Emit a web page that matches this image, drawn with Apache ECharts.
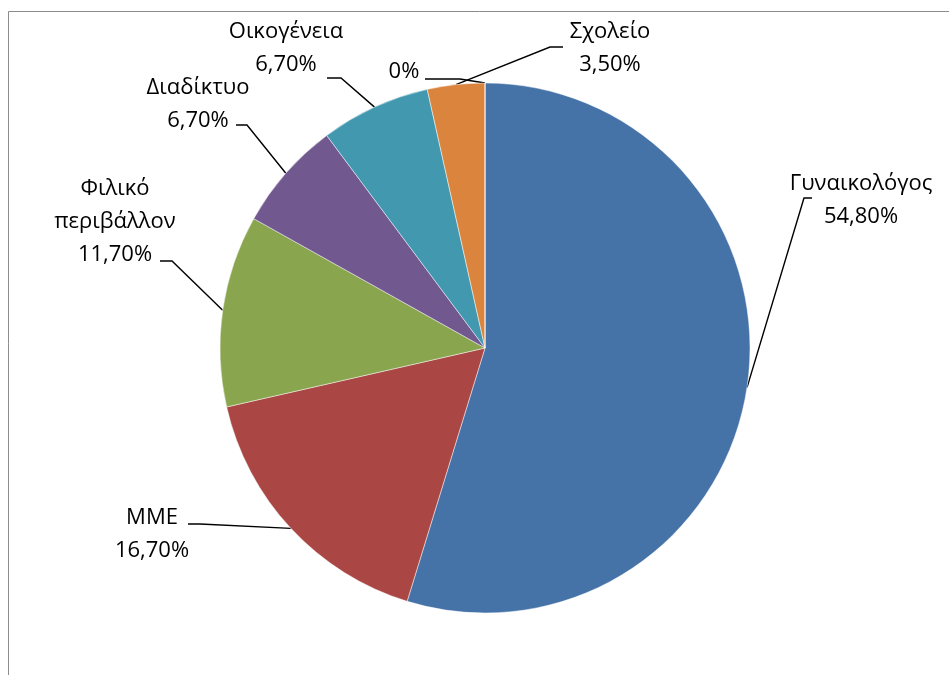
<!DOCTYPE html>
<html>
<head>
<meta charset="utf-8">
<style>
  html, body { margin: 0; padding: 0; background: #ffffff; }
  #chart { width: 949px; height: 675px; }
</style>
<script src="https://cdn.jsdelivr.net/npm/echarts@6/dist/echarts.min.js"></script>
</head>
<body>
<div id="chart"></div>
<script>
// Sources of information, share of respondents (%)
const categories = ['Γυναικολόγος', 'ΜΜΕ', 'Φιλικό περιβάλλον', 'Διαδίκτυο', 'Οικογένεια', 'Σχολείο', ''];
const shares = [54.8, 16.7, 11.7, 6.7, 6.7, 3.5, 0];
const sliceColors = ['#4572A7', '#AA4643', '#89A54E', '#71588F', '#4198AF', '#DB843D', '#93A9CF'];

// Label placement: label centre, elbow point and end point of each leader line
const labelSpots = [
  { c: [861, 200], elbow: [804, 198], end: [812, 198] },
  { c: [152, 534], elbow: [200, 524], end: [188, 524] },
  { c: [115, 222], elbow: [172, 261], end: [160, 261] },
  { c: [198, 104], elbow: [247, 125], end: [236, 125] },
  { c: [286, 48],  elbow: [341, 78],  end: [327, 78] },
  { c: [610, 48],  elbow: [550, 47],  end: [563, 47] },
  { c: [404, 72],  elbow: [460, 79],  end: [425, 79] }
];

function pctText(v) {
  return v === 0 ? '0%' : v.toFixed(2).replace('.', ',') + '%';
}

const chart = echarts.init(document.getElementById('chart'), null, { renderer: 'canvas' });

chart.setOption({
  animation: false,
  backgroundColor: '#ffffff',
  graphic: [{
    type: 'rect',
    shape: { x: 8.5, y: 11.5, width: 1000, height: 700 },
    style: { fill: 'none', stroke: '#8c8c8c', lineWidth: 1 },
    silent: true
  }],
  series: [{
    type: 'pie',
    center: [485, 348],
    radius: 265,
    startAngle: 90,
    clockwise: true,
    avoidLabelOverlap: false,
    data: categories.map((name, i) => ({
      name: name,
      value: shares[i],
      itemStyle: { color: sliceColors[i] }
    })),
    itemStyle: { borderColor: 'rgba(255,255,255,0.6)', borderWidth: 0.8 },
    label: {
      show: true,
      position: 'outside',
      color: '#000000',
      fontFamily: 'Open Sans, Noto Sans, sans-serif',
      fontSize: 22,
      lineHeight: 33,
      align: 'center',
      formatter: function (p) {
        const name = p.name ? p.name.replace(' ', '\n') + '\n' : '';
        return name + pctText(p.value);
      }
    },
    labelLine: {
      show: true,
      length: 20,
      length2: 10,
      lineStyle: { color: '#000000', width: 1.4 }
    },
    labelLayout: function (params) {
      const spot = labelSpots[params.dataIndex];
      const start = params.labelLinePoints ? params.labelLinePoints[0] : spot.elbow;
      return {
        x: spot.c[0],
        y: spot.c[1],
        align: 'center',
        verticalAlign: 'middle',
        labelLinePoints: [start, spot.elbow, spot.end]
      };
    }
  }]
});
</script>
</body>
</html>
